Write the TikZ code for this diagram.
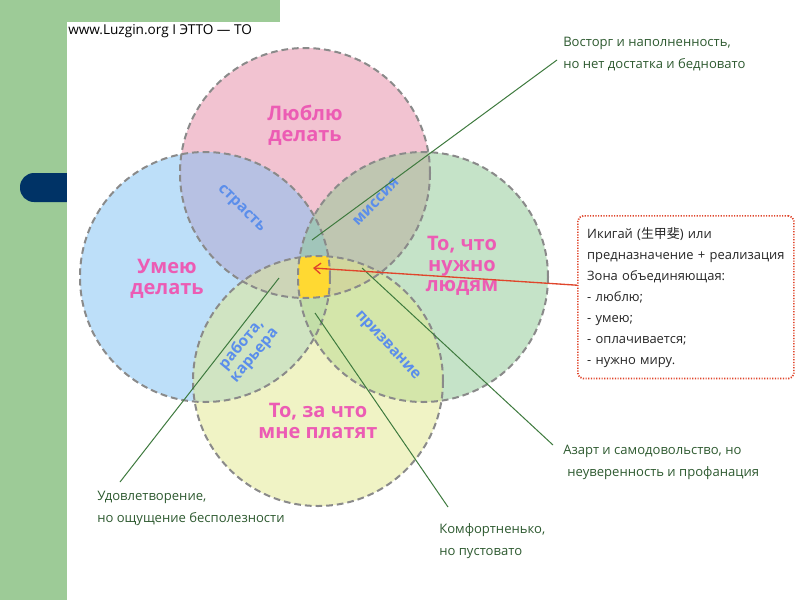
\documentclass[tikz,border=0pt]{standalone}
\usepackage{fontspec}
\setmainfont{Open Sans}
\newfontfamily\cjk{Noto Sans CJK JP}
\usetikzlibrary{arrows.meta}
\definecolor{greenbg}{HTML}{9DCB97}
\definecolor{navy}{HTML}{003366}
\definecolor{pinkC}{RGB}{231,137,165}
\definecolor{blueC}{RGB}{125,193,245}
\definecolor{greenC}{RGB}{141,201,147}
\definecolor{yellowC}{RGB}{227,233,141}
\definecolor{centreY}{HTML}{FFD932}
\definecolor{dashgray}{HTML}{8A8A8A}
\definecolor{pinktext}{HTML}{EC5CB4}
\definecolor{bluetext}{HTML}{5B8EEB}
\definecolor{labgreen}{HTML}{2E5A30}
\definecolor{linegreen}{HTML}{3E7A3E}
\definecolor{redline}{HTML}{E0452B}
\tikzset{
  circfill/.style={fill opacity=0.5},
  circ/.style={draw=dashgray, line width=1.5pt, dash pattern=on 5pt off 3pt},
  bigtxt/.style={text=pinktext, font=\fontsize{15}{15.5}\selectfont\bfseries, align=center, inner sep=0pt},
  bluetxt/.style={text=bluetext, font=\fontsize{11.5}{12.5}\selectfont\bfseries, align=center, inner sep=0pt},
  lbl/.style={text=labgreen, font=\fontsize{9.8}{16.5}\selectfont, align=left, inner sep=0pt, anchor=west},
  conn/.style={draw=linegreen, line width=0.75pt},
  ikbox/.style={draw=redline, line width=1.3pt, dash pattern=on 0.9pt off 1.1pt, rounded corners=4pt,
     align=left, text=black!85, font=\fontsize{9.7}{15.75}\selectfont, inner xsep=7pt,
     minimum width=161pt, minimum height=122pt, anchor=north west, text width=148pt},
  redarrow/.style={draw=redline, line width=1pt, -{Straight Barb[length=5pt,width=8pt]}}
}
\begin{document}
\begin{tikzpicture}[x=0.75pt,y=-0.75pt]
\useasboundingbox (0,0) rectangle (800,600);
% background
\fill[greenbg] (0,0) rectangle (280,600);
\fill[navy, rounded corners=10.5pt] (20,173) rectangle (90,202);
\fill[white] (67,22) rectangle (800,600);
\node[anchor=west, inner sep=0pt, font=\fontsize{10.2}{12}\selectfont, text=black] (hdr) at (68,31) {www.Luzgin.org I ЭТТО — ТО};
% circles
\coordinate (cP) at (305,173);
\coordinate (cB) at (205,277);
\coordinate (cG) at (423,277);
\coordinate (cY) at (318,381);
\def\R{93.75pt}
\fill[pinkC, circfill] (cP) circle[radius=\R];
\fill[blueC, circfill] (cB) circle[radius=\R];
\fill[greenC, circfill] (cG) circle[radius=\R];
\fill[yellowC, circfill] (cY) circle[radius=\R];
\begin{scope}
\clip (cP) circle[radius=\R];
\clip (cB) circle[radius=\R];
\clip (cG) circle[radius=\R];
\fill[centreY] (cY) circle[radius=\R];
\end{scope}
\draw[circ] (cP) circle[radius=\R];
\draw[circ] (cB) circle[radius=\R];
\draw[circ] (cG) circle[radius=\R];
\draw[circ] (cY) circle[radius=\R];
% labels in circles
\node[bigtxt] (love) at (305,125) {Люблю\\делать};
\node[bigtxt] (can) at (167,279) {Умею\\делать};
\node[bigtxt] (need) at (462,266) {То, что\\нужно\\людям};
\node[bigtxt] (paid) at (318,421) {То, за что\\мне платят};
\node[bluetxt, rotate=-45] (passion) at (241,209) {страсть};
\node[bluetxt, rotate=46] (mission) at (376,202) {миссия};
\node[bluetxt, rotate=50] (career) at (248,350) {работа,\\карьера};
\node[bluetxt, rotate=-47] (vocation) at (387,346) {призвание};
% side labels
\node[lbl] (vostorg) at (563,54) {Восторг и наполненность,\\но нет достатка и бедновато};
\node[lbl] (azart) at (563,462) {Азарт и самодовольство, но\\\hspace*{3pt}неуверенность и профанация};
\node[lbl] (udovl) at (97,508) {Удовлетворение,\\но ощущение бесполезности};
\node[lbl] (komf) at (439,541) {Комфортненько,\\но пустовато};
% connector points
\coordinate (m1) at (312,240);
\coordinate (e1) at (557,60);
\coordinate (m2) at (279,278);
\coordinate (e2) at (120,482);
\coordinate (m3) at (315,313);
\coordinate (e3) at (448,507);
\coordinate (m4) at (362,268);
\coordinate (e4) at (553,445);
\draw[conn] (m1) -- (e1);
\draw[conn] (m2) -- (e2);
\draw[conn] (m3) -- (e3);
\draw[conn] (m4) -- (e4);
% ikigai box
\node[ikbox] (ik) at (577,215) {Икигай ({\cjk 生甲斐}) или\\предназначение + реализация\\Зона объединяющая:\\- люблю;\\- умею;\\- оплачивается;\\- нужно миру.};
\coordinate (centre) at (313,268);
\draw[redarrow] ([yshift=9pt]ik.west) -- (centre);
\end{tikzpicture}
\end{document}
